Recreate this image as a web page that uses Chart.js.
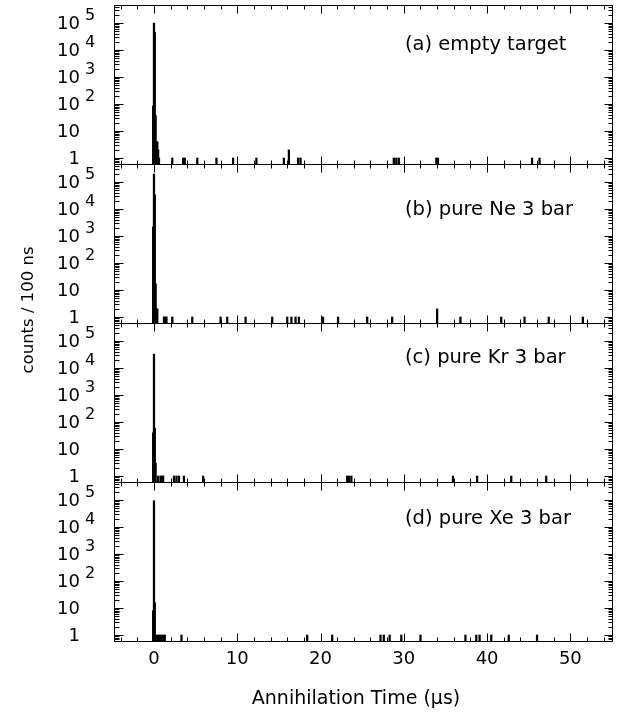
<!DOCTYPE html>
<html><head><meta charset="utf-8">
<script src="https://cdn.jsdelivr.net/npm/chart.js@4.4.0/dist/chart.umd.min.js"></script>
<style>
html,body{margin:0;padding:0;background:#fff;}
#wrap{position:relative;width:619px;height:720px;background:#fff;}
canvas{position:absolute;left:0;top:0;}
</style></head><body>
<div id="wrap">
<canvas id="ca" width="619" height="720"></canvas>
<canvas id="cb" width="619" height="720"></canvas>
<canvas id="cc" width="619" height="720"></canvas>
<canvas id="cd" width="619" height="720"></canvas>
</div>
<script>
// ---- data ----
const panelLabels = ['(a) empty target', '(b) pure Ne 3 bar', '(c) pure Kr 3 bar', '(d) pure Xe 3 bar'];
const xTickValues = [0, 10, 20, 30, 40, 50];
const xTickLabels = ['0', '10', '20', '30', '40', '50'];
const yTickValues = [1, 10, 100, 1000, 10000, 100000];
const yTickBase = ['1', '10', '10', '10', '10', '10'];
const yTickExp = ['', '', '2', '3', '4', '5'];
const xTitle = 'Annihilation Time (\u03bcs)';
const yTitle = 'counts / 100 ns';

// time bins (µs, 100 ns bins) and counts per panel
const timesA  = [-0.1, 0, 0.1, 0.2, 0.3, 0.4, 0.5, 0.6, 2.2, 3.5, 3.7, 5.2, 7.5, 9.5, 12.3, 15.6, 16.2, 17.3, 17.6, 28.8, 29.1, 29.4, 33.9, 34.1, 45.4, 46.3];
const countsA = [85, 100000, 45000, 37, 4, 4, 2, 1, 1, 1, 1, 1, 1, 1, 1, 1, 2, 1, 1, 1, 1, 1, 1, 1, 1, 1];

const timesB  = [-0.1, 0, 0.1, 0.2, 0.3, 0.4, 1.2, 1.3, 1.4, 1.5, 2.2, 4.6, 8.0, 8.8, 11.0, 14.2, 16.0, 16.5, 17.0, 17.4, 20.3, 22.1, 25.6, 28.6, 34.0, 36.8, 41.7, 44.5, 47.4, 51.5];
const countsB = [2200, 200000, 34000, 17, 2, 2, 1, 1, 1, 1, 1, 1, 1, 1, 1, 1, 1, 1, 1, 1, 1, 1, 1, 1, 2, 1, 1, 1, 1, 1];

const timesC  = [-0.1, 0, 0.1, 0.2, 0.5, 0.8, 1.0, 1.1, 2.4, 2.7, 3.0, 3.6, 5.9, 23.2, 23.4, 23.7, 35.9, 38.8, 42.9, 47.1];
const countsC = [40, 33000, 60, 3, 1, 1, 1, 1, 1, 1, 1, 1, 1, 1, 1, 1, 1, 1, 1, 1];

const timesD  = [-0.1, 0, 0.1, 0.3, 0.5, 0.7, 0.9, 1.1, 1.3, 3.3, 18.4, 21.4, 27.2, 27.6, 28.3, 29.7, 32.0, 37.4, 38.7, 39.1, 40.5, 42.6, 46.0];
const countsD = [8, 95000, 16, 1, 1, 1, 1, 1, 1, 1, 1, 1, 1, 1, 1, 1, 1, 1, 1, 1, 1, 1, 1];

// ---- layout / style ----
const X_MIN = -4.8, X_MAX = 55;
const Y_MIN = 0.6, Y_MAX = 4.7e5;
const LEFT = 114, RIGHT = 612;
const TOPS = [5, 164, 323, 482];
const BOTTOMS = [164, 323, 482, 641];
const LABEL_Y = [45, 210, 358, 519];
const FONT = '"DejaVu Sans", "Liberation Sans", sans-serif';

function framePlugin(p) {
  return {
    id: 'frame' + p,
    afterDatasetsDraw(chart) {
      const ctx = chart.ctx, a = chart.chartArea;
      const xs = chart.scales.x, ys = chart.scales.y;
      ctx.save();
      ctx.strokeStyle = '#000';
      ctx.fillStyle = '#000';
      ctx.lineWidth = 1;
      const l = Math.round(a.left) + 0.5, r = Math.round(a.right) + 0.5;
      const t = Math.round(a.top) + 0.5, b = Math.round(a.bottom) + 0.5;
      ctx.strokeRect(l, t, r - l, b - t);
      ctx.beginPath();
      for (let v = -4; v <= 54; v += 2) {
        const px = Math.round(xs.getPixelForValue(v)) + 0.5;
        const L = (v % 10 === 0) ? 8 : 4;
        ctx.moveTo(px, t); ctx.lineTo(px, t + L);
        ctx.moveTo(px, b); ctx.lineTo(px, b - L);
      }
      for (let d = -1; d <= 5; d++) {
        for (let m = 1; m <= 9; m++) {
          const v = m * Math.pow(10, d);
          if (v < ys.min || v > ys.max) continue;
          const py = Math.round(ys.getPixelForValue(v)) + 0.5;
          const major = (m === 1);
          ctx.moveTo(l, py); ctx.lineTo(l + (major ? 9 : 5), py);
          ctx.moveTo(r, py); ctx.lineTo(r - (major ? 8 : 4), py);
        }
      }
      ctx.stroke();

      // y tick labels
      ctx.textBaseline = 'middle';
      yTickValues.forEach((v, i) => {
        const py = ys.getPixelForValue(v);
        ctx.font = '18px ' + FONT;
        ctx.textAlign = 'right';
        ctx.fillText(yTickBase[i], 80, py + 1);
        if (yTickExp[i]) {
          ctx.font = '16px ' + FONT;
          ctx.textAlign = 'left';
          ctx.fillText(yTickExp[i], 85, py - 7);
        }
      });

      // panel label
      ctx.font = '19.5px ' + FONT;
      ctx.textAlign = 'left';
      ctx.fillText(panelLabels[p], 405, LABEL_Y[p]);

      if (p === 3) {
        ctx.font = '18px ' + FONT;
        ctx.textAlign = 'center';
        xTickValues.forEach((v, i) => {
          ctx.fillText(xTickLabels[i], xs.getPixelForValue(v), 659);
        });
        ctx.font = '19px ' + FONT;
        ctx.fillText(xTitle, 356, 699);
        ctx.save();
        ctx.translate(33, 310);
        ctx.rotate(-Math.PI / 2);
        ctx.font = '16.5px ' + FONT;
        ctx.textAlign = 'center';
        ctx.textBaseline = 'alphabetic';
        ctx.fillText(yTitle, 0, 0);
        ctx.restore();
      }
      ctx.restore();
    }
  };
}

function makeChart(id, times, counts, p) {
  const pts = times.map((tv, i) => ({x: tv, y: counts[i]}));
  return new Chart(document.getElementById(id), {
    type: 'bar',
    data: {datasets: [{data: pts, backgroundColor: '#000', borderWidth: 0, barThickness: 1.6, grouped: false}]},
    options: {
      responsive: false, animation: false, events: [],
      layout: {padding: {left: LEFT, right: 619 - RIGHT, top: TOPS[p], bottom: 720 - BOTTOMS[p]}},
      scales: {
        x: {type: 'linear', min: X_MIN, max: X_MAX, display: false, offset: false, grid: {offset: false}},
        y: {type: 'logarithmic', min: Y_MIN, max: Y_MAX, display: false}
      },
      plugins: {legend: {display: false}, tooltip: {enabled: false}}
    },
    plugins: [framePlugin(p)]
  });
}

makeChart('ca', timesA, countsA, 0);
makeChart('cb', timesB, countsB, 1);
makeChart('cc', timesC, countsC, 2);
makeChart('cd', timesD, countsD, 3);
</script>
</body></html>
